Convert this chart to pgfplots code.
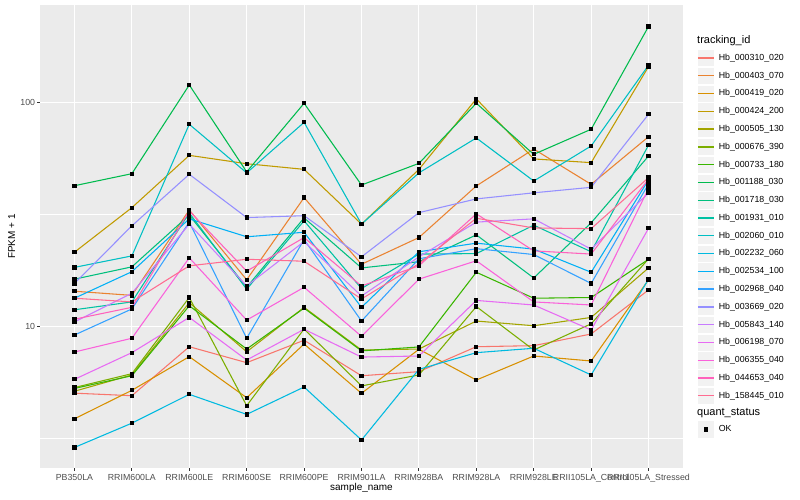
\documentclass[border=0pt]{standalone}
\usepackage{fontspec}
\setmainfont{Liberation Sans}
\usepackage{pgfplots}
\usepackage{pgfplotstable}
\pgfplotsset{compat=1.18}

\definecolor{c1}{HTML}{F8766D}
\definecolor{c2}{HTML}{EA8331}
\definecolor{c3}{HTML}{D89000}
\definecolor{c4}{HTML}{C09B00}
\definecolor{c5}{HTML}{A3A500}
\definecolor{c6}{HTML}{7CAE00}
\definecolor{c7}{HTML}{39B600}
\definecolor{c8}{HTML}{00BB4E}
\definecolor{c9}{HTML}{00BF7D}
\definecolor{c10}{HTML}{00C1A3}
\definecolor{c11}{HTML}{00BFC4}
\definecolor{c12}{HTML}{00BAE0}
\definecolor{c13}{HTML}{00B0F6}
\definecolor{c14}{HTML}{35A2FF}
\definecolor{c15}{HTML}{9590FF}
\definecolor{c16}{HTML}{C77CFF}
\definecolor{c17}{HTML}{E76BF3}
\definecolor{c18}{HTML}{FA62DB}
\definecolor{c19}{HTML}{FF62BC}
\definecolor{c20}{HTML}{FF6C91}
\definecolor{ggpanel}{HTML}{EBEBEB}
\definecolor{ggkey}{HTML}{F2F2F2}
\definecolor{ggtext}{HTML}{4D4D4D}
\definecolor{ggtick}{HTML}{333333}

% FPKM + 1, one column per tracking_id, one row per sample
\pgfplotstableread{
x  s1   s2   s3   s4   s5   s6   s7   s8   s9   s10  s11  s12  s13  s14  s15  s16  s17  s18  s19  s20
0  5.05 14.4 3.88 21.5 5.15 5.35 5.30 42.6 16.3 11.9 18.4 2.89 13.4 9.18 15.6 10.5 5.82 7.71 10.8 13.4
1  4.92 13.8 5.20 34.0 6.09 6.17 6.04 48.2 18.5 12.9 20.7 3.71 17.6 12.0 28.2 14.1 7.66 8.88 12.2 12.9
2  8.14 33.2 7.35 58.2 12.8 13.5 12.4 120  31.5 32.2 80.1 4.99 30.3 29.3 47.9 28.7 11.0 20.3 32.9 18.7
3  6.91 16.2 4.82 53.4 7.73 4.44 7.95 49.1 15.0 14.7 48.6 4.06 25.2 8.88 30.7 15.2 7.10 10.7 17.7 20.0
4  8.70 37.7 8.37 50.4 12.2 9.77 12.1 99.4 30.6 29.7 81.7 5.38 26.4 24.5 31.3 24.0 9.74 15.0 25.0 19.6
5  6.04 19.0 5.04 28.7 7.87 5.44 7.80 42.9 18.3 14.8 28.7 3.12 12.2 10.6 20.5 13.7 7.32 9.06 15.2 13.3
6  6.30 25.0 7.93 50.4 7.95 6.09 8.12 53.6 19.5 21.1 48.6 6.45 21.6 20.1 32.3 20.5 7.40 16.3 18.7 19.1
7  8.14 42.5 5.78 104  10.6 12.3 17.5 99.4 25.7 21.2 69.6 7.66 23.6 22.3 37.2 29.3 13.1 19.7 31.9 30.5
8  8.23 62.1 7.40 56.1 10.1 7.87 13.4 58.8 16.5 28.4 44.7 8.01 22.2 21.0 39.6 30.3 12.5 12.9 21.8 27.6
9  9.28 43.2 7.03 54.0 11.0 10.3 13.5 76.1 29.1 21.6 64.1 6.09 17.5 15.6 41.9 22.2 9.67 12.5 21.1 27.4
10 14.6 70.5 16.2 145  18.3 20.1 20.0 219  57.8 64.7 147  16.3 45.2 43.4 88.8 39.6 27.5 41.4 45.6 46.3
}\fpkm

\begin{document}
\begin{tikzpicture}
  \begin{axis}[
      at={(0,0)}, anchor=south west,
      scale only axis,
      width=643bp, height=463bp,
      ymode=log,
      xmin=-0.6, xmax=10.6,
      ymin=2.34, ymax=273,
      xtick={0,...,10},
      xticklabels={PB350LA,RRIM600LA,RRIM600LE,RRIM600SE,RRIM600PE,RRIM901LA,RRIM928BA,RRIM928LA,RRIM928LE,RRII105LA\_Control,RRII105LA\_Stressed},
      ytick={10,100},
      yticklabels={10,100},
      minor ytick={3.1623,31.623},
      xmajorgrids, ymajorgrids, yminorgrids,
      major grid style={white, line width=1.07bp},
      minor grid style={white, line width=0.53bp},
      axis background/.style={fill=ggpanel},
      axis line style={draw=none},
      tick pos=left, tick align=outside,
      major tick length=2.75bp, minor tick length=0pt,
      tick style={color=ggtick, line width=1.07bp},
      tick label style={color=ggtext, font=\fontsize{8.8bp}{10bp}\selectfont},
      xticklabel style={anchor=north, inner sep=0pt, yshift=-3bp},
      yticklabel style={anchor=east, inner sep=0pt, xshift=-2bp},
      xlabel={sample\_name},
      ylabel={FPKM + 1},
      label style={font=\fontsize{11bp}{13bp}\selectfont, inner sep=0pt},
      every axis x label/.style={at={(axis description cs:0.5,-0.0437)}, anchor=center},
      every axis y label/.style={at={(axis description cs:-0.0440,0.5)}, anchor=center, rotate=90},
      legend cell align=left,
      legend style={at={(axis description cs:1.02177,0.9048)}, anchor=north west,
        draw=none, fill=none, inner sep=0pt, outer sep=0pt, row sep=0pt,
        font=\fontsize{8.8bp}{10bp}\selectfont,
        nodes={inner xsep=4bp, inner ysep=0pt}},
      legend image code/.code={
        \fill[ggkey, draw=white, line width=0.5bp] (0bp,-8.64bp) rectangle (17.28bp,8.64bp);
        \draw[#1, line width=1.4bp] (0.6bp,0bp) -- (16.7bp,0bp);},
      every axis plot/.append style={line width=1.07bp},
    ]
    \addplot[c1]  table[x=x, y=s1]  {\fpkm}; \addlegendentry{Hb\_000310\_020}
    \addplot[c2]  table[x=x, y=s2]  {\fpkm}; \addlegendentry{Hb\_000403\_070}
    \addplot[c3]  table[x=x, y=s3]  {\fpkm}; \addlegendentry{Hb\_000419\_020}
    \addplot[c4]  table[x=x, y=s4]  {\fpkm}; \addlegendentry{Hb\_000424\_200}
    \addplot[c5]  table[x=x, y=s5]  {\fpkm}; \addlegendentry{Hb\_000505\_130}
    \addplot[c6]  table[x=x, y=s6]  {\fpkm}; \addlegendentry{Hb\_000676\_390}
    \addplot[c7]  table[x=x, y=s7]  {\fpkm}; \addlegendentry{Hb\_000733\_180}
    \addplot[c8]  table[x=x, y=s8]  {\fpkm}; \addlegendentry{Hb\_001188\_030}
    \addplot[c9]  table[x=x, y=s9]  {\fpkm}; \addlegendentry{Hb\_001718\_030}
    \addplot[c10] table[x=x, y=s10] {\fpkm}; \addlegendentry{Hb\_001931\_010}
    \addplot[c11] table[x=x, y=s11] {\fpkm}; \addlegendentry{Hb\_002060\_010}
    \addplot[c12] table[x=x, y=s12] {\fpkm}; \addlegendentry{Hb\_002232\_060}
    \addplot[c13] table[x=x, y=s13] {\fpkm}; \addlegendentry{Hb\_002534\_100}
    \addplot[c14] table[x=x, y=s14] {\fpkm}; \addlegendentry{Hb\_002968\_040}
    \addplot[c15] table[x=x, y=s15] {\fpkm}; \addlegendentry{Hb\_003669\_020}
    \addplot[c16] table[x=x, y=s16] {\fpkm}; \addlegendentry{Hb\_005843\_140}
    \addplot[c17] table[x=x, y=s17] {\fpkm}; \addlegendentry{Hb\_006198\_070}
    \addplot[c18] table[x=x, y=s18] {\fpkm}; \addlegendentry{Hb\_006355\_040}
    \addplot[c19] table[x=x, y=s19] {\fpkm}; \addlegendentry{Hb\_044653\_040}
    \addplot[c20] table[x=x, y=s20] {\fpkm}; \addlegendentry{Hb\_158445\_010}
    % points on top of all lines
    \pgfplotsinvokeforeach{1,...,20}{
      \addplot[only marks, mark=square*, mark size=1.6bp, black, forget plot]
        table[x=x, y=s#1] {\fpkm};
    }
  \end{axis}
  % second legend: quant_status
  \begin{axis}[
      at={(0,0)}, anchor=south west,
      scale only axis, width=643bp, height=463bp,
      hide axis, xmin=0, xmax=1, ymin=0, ymax=1,
      legend cell align=left,
      legend style={at={(axis description cs:1.02177,0.1028)}, anchor=north west,
        draw=none, fill=none, inner sep=0pt, outer sep=0pt,
        font=\fontsize{8.8bp}{10bp}\selectfont,
        nodes={inner xsep=4bp, inner ysep=0pt}},
      legend image code/.code={
        \fill[ggkey, draw=white, line width=0.5bp] (0bp,-8.64bp) rectangle (17.28bp,8.64bp);
        \draw[#1] plot coordinates {(8.64bp,0bp)};},
    ]
    \addlegendimage{only marks, mark=square*, mark size=1.6bp, black}
    \addlegendentry{OK}
  \end{axis}
  \node[anchor=west, inner sep=0pt, font=\fontsize{11bp}{13bp}\selectfont] at (657bp,427.8bp) {tracking\_id};
  \node[anchor=west, inner sep=0pt, font=\fontsize{11bp}{13bp}\selectfont] at (657bp,55.2bp) {quant\_status};
  \pgfresetboundingbox
  \path[use as bounding box] (-40bp,-32bp) rectangle (760bp,468bp);
\end{tikzpicture}
\end{document}
